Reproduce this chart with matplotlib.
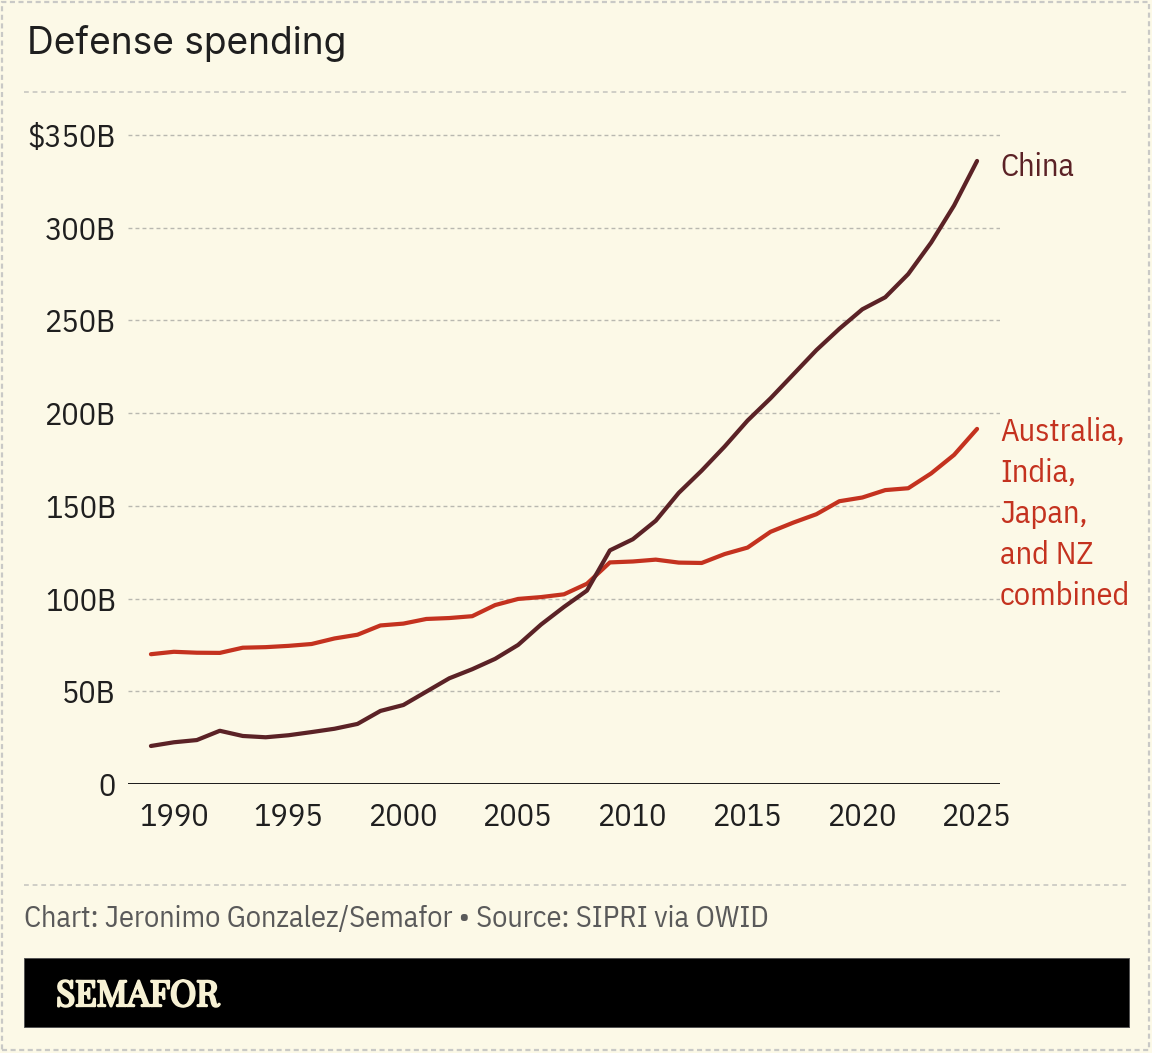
import matplotlib
matplotlib.use("Agg")
import matplotlib.pyplot as plt
from matplotlib.lines import Line2D
from matplotlib.patches import Rectangle
from matplotlib import font_manager as fm
import matplotlib.patheffects as pe

# ---------------- data ----------------
years = list(range(1989, 2026))
china = [20.5, 22.5, 23.7, 28.7, 25.9, 25.2, 26.3, 28.0, 29.8, 32.4,
         39.4, 42.6, 49.8, 57.0, 61.9, 67.5, 75.0, 86.0, 95.5, 104.3,
         126.0, 132.0, 142.0, 157.0, 169.0, 182.0, 196.0, 208.0, 221.0, 234.0,
         245.5, 256.0, 262.5, 275.0, 292.0, 312.0, 336.0]
combined = [70.0, 71.3, 70.8, 70.7, 73.5, 73.8, 74.5, 75.5, 78.5, 80.5,
            85.5, 86.5, 89.0, 89.5, 90.5, 96.5, 99.8, 100.8, 102.3, 108.0,
            119.5, 120.0, 121.0, 119.4, 119.2, 124.0, 127.5, 136.0, 141.0, 145.5,
            152.5, 154.5, 158.5, 159.5, 167.5, 177.5, 191.5]
y_ticks = [0, 50, 100, 150, 200, 250, 300, 350]
y_labels = ["0", "50B", "100B", "150B", "200B", "250B", "300B", "$350B"]
x_ticks = [1990, 1995, 2000, 2005, 2010, 2015, 2020, 2025]
x_labels = [str(x) for x in x_ticks]
label_china = ["China"]
label_combined = ["Australia,", "India,", "Japan,", "and NZ", "combined"]
title = "Defense spending"
source = "Chart: Jeronimo Gonzalez/Semafor \u2022 Source: SIPRI via OWID"
brand = "SEMAFOR"

# ---------------- style ----------------
W, H = 1152, 1053
BG = "#fcf9e7"
C_CHINA = "#5b2226"
C_RED = "#c4321f"
C_TEXT = "#1f1f1f"
C_GRID = "#b9b8b0"
C_RULE = "#c6c5c0"
C_BRAND = "#f7f1d4"
PLEX = "IBM Plex Sans Condensed"
LABEL_SIZE = 23.2

# pick a serif for the brand mark
brand_file = None
for cand in ["Playfair Display", "Libre Bodoni", "Bodoni Moda", "Abril Fatface",
             "Noto Serif Display", "Old Standard TT", "DejaVu Serif"]:
    hits = [f for f in fm.fontManager.ttflist if f.name == cand and f.style == "normal"]
    if hits:
        hits.sort(key=lambda f: (-(f.weight if isinstance(f.weight, int) else 400),
                                 0 if f.stretch == "condensed" else 1))
        brand_file = hits[0].fname
        break
brand_prop = fm.FontProperties(fname=brand_file) if brand_file else fm.FontProperties(family="DejaVu Serif", weight="bold")


def fx(px):
    return px / W


def fy(py):
    return 1 - py / H


def pt(px):
    return px * 72 / 100


fig = plt.figure(figsize=(W / 100, H / 100), dpi=100, facecolor=BG)

# outer dashed border
border = Rectangle((fx(1.5), fy(1050)), fx(1149) - fx(1.5), fy(1.5) - fy(1050),
                   transform=fig.transFigure, fill=False, edgecolor="#c9c9c6",
                   lw=pt(2.2), linestyle=(0, (2.3, 1.6)))
fig.add_artist(border)

# title
fig.text(fx(27), fy(54), title, fontfamily="Inter", fontsize=26.7,
         color=C_TEXT, ha="left", va="baseline")

# horizontal dashed rules
for yy in (92, 885):
    fig.add_artist(Line2D([fx(24), fx(1129)], [fy(yy), fy(yy)], transform=fig.transFigure,
                          color=C_RULE, lw=pt(1.6), linestyle=(0, (3.0, 2.4))))

# axes
ax_left, ax_right = 128, 1000
scale = (784 - 135) / 350.0
ytop = 360
ax_top_px = 784 - ytop * scale
ax = fig.add_axes([fx(ax_left), fy(784), fx(ax_right) - fx(ax_left), (784 - ax_top_px) / H])
ax.set_facecolor("none")
ax.set_xlim(1988, 2026)
ax.set_ylim(0, ytop)
for s in ax.spines.values():
    s.set_visible(False)

ax.set_yticks(y_ticks)
ax.set_yticklabels(y_labels)
ax.set_xticks(x_ticks)
ax.set_xticklabels(x_labels)
ax.tick_params(axis="both", length=0, labelsize=LABEL_SIZE, labelcolor=C_TEXT)
ax.tick_params(axis="y", pad=pt(12))
ax.tick_params(axis="x", pad=pt(18))
for lab in ax.get_xticklabels() + ax.get_yticklabels():
    lab.set_fontfamily(PLEX)

for v in y_ticks[1:]:
    ax.axhline(v, color=C_GRID, lw=pt(1.4), linestyle=(0, (2.8, 2.2)), zorder=1)
ax.axhline(0, color=C_TEXT, lw=pt(2.0), zorder=2)

ax.plot(years, combined, color=C_RED, lw=pt(4.2), solid_capstyle="round",
        solid_joinstyle="round", zorder=3)
ax.plot(years, china, color=C_CHINA, lw=pt(4.2), solid_capstyle="round",
        solid_joinstyle="round", zorder=4)

# direct labels
fig.text(fx(1000), fy(176), label_china[0], fontfamily=PLEX, fontsize=LABEL_SIZE,
         color=C_CHINA, ha="left", va="baseline")
for i, line in enumerate(label_combined):
    fig.text(fx(1000), fy(441 + i * 41), line, fontfamily=PLEX, fontsize=LABEL_SIZE,
             color=C_RED, ha="left", va="baseline")

# source
fig.text(fx(24), fy(927), source, fontfamily=PLEX, fontsize=21.8,
         color="#5a5a5a", ha="left", va="baseline")

# brand banner
banner = Rectangle((fx(24), fy(1027)), fx(1129) - fx(24), fy(958) - fy(1027),
                   transform=fig.transFigure, facecolor="#000000",
                   edgecolor="#555555", lw=pt(1.0))
fig.add_artist(banner)
fig.text(fx(56), fy(1006), brand, fontproperties=brand_prop,
         fontsize=25.5, color=C_BRAND, ha="left", va="baseline",
         path_effects=[pe.withStroke(linewidth=1.8, foreground=C_BRAND)])

fig.savefig("out.png", dpi=100, facecolor=BG)
